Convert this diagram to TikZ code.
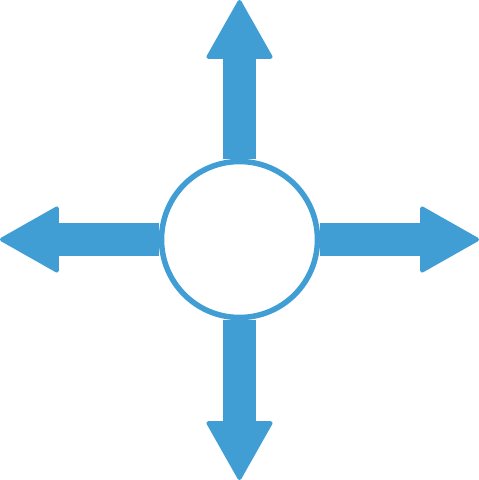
\documentclass[tikz,border=0pt]{standalone}
\usetikzlibrary{arrows.meta}
\definecolor{hubblue}{RGB}{65,158,213}

\begin{document}
\begin{tikzpicture}[x=0.02cm, y=-0.02cm,
    spoke/.style = {draw=hubblue, line width=0.66cm,
      -{Triangle[length=1.22cm, width=1.36cm, line width=0.08cm, round, fill=hubblue]}}]
            \useasboundingbox (0,0) rectangle (479,480);
            \node[circle, draw=hubblue, fill=white, line width=0.11cm, minimum size=3.12cm] (hub) at (239.5,239.5) {};
            \coordinate (n) at (239.5,0);
            \coordinate (s) at (239.5,480);
            \coordinate (w) at (0,239.5);
            \coordinate (e) at (479,239.5);

            \path[spoke]
              (hub) edge (n)
              (hub) edge (s)
              (hub) edge (w)
              (hub) edge (e)
            ;
          \end{tikzpicture}
\end{document}
